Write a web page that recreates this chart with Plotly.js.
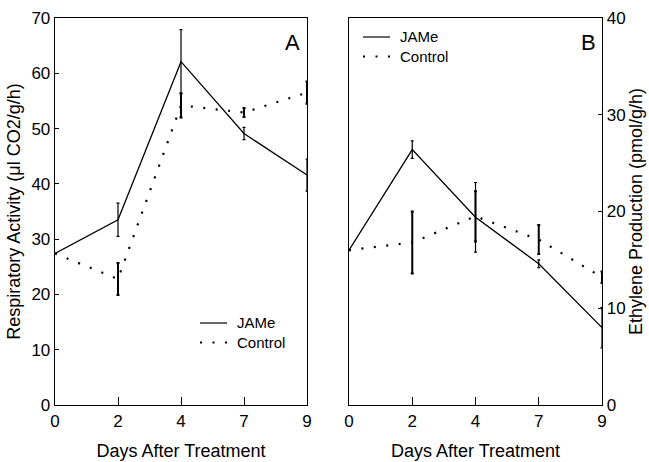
<!DOCTYPE html>
<html>
<head>
<meta charset="utf-8">
<script src="https://cdn.plot.ly/plotly-3.0.1.min.js"></script>
<style>html,body{margin:0;padding:0;background:#fff;}#chart{width:649px;height:462px;}</style>
</head>
<body>
<div id="chart"></div>
<script>
// Days after treatment (evenly spaced categories)
const days = ['0', '2', '4', '7', '9'];

// Panel A: Respiratory activity (µl CO2/g/h)
const respJAMe    = [27.4, 33.5, 62.1, 49.1, 41.6];
const respJAMeErr = [0, 3.0, 5.8, 1.1, 2.9];
const respCtrl    = [27.4, 22.8, 54.2, 52.9, 56.5];
const respCtrlErr = [0, 2.9, 2.2, 0.8, 2.0];

// Panel B: Ethylene production (pmol/g/h)
const ethJAMe     = [16.0, 26.4, 19.4, 14.6, 8.0];
const ethJAMeErr  = [0, 0.9, 3.6, 0.4, 2.1];
const ethCtrl     = [16.0, 16.8, 19.5, 17.1, 13.2];
const ethCtrlErr  = [0, 3.2, 2.6, 1.5, 0.6];

// Series names
const seriesNames = ['JAMe', 'Control'];

const FONT = 'Liberation Sans, Arial, Helvetica, sans-serif';
const solid = {color: '#000', width: 1.3, dash: 'solid'};
const dotted = {color: '#000', width: 2.2, dash: '2px,10.5px'};

// layout geometry helpers (pixel -> paper), for legend/label placement only
const ML = 55, MT = 18, PW = 547, PH = 387;
const px = v => (v - ML) / PW;
const py = v => (MT + PH - v) / PH;

function trace(x, y, err, name, line, xa, ya, errw) {
  return {
    x: x, y: y, name: name, type: 'scatter', mode: 'lines',
    line: line, xaxis: xa, yaxis: ya, showlegend: false,
    error_y: {type: 'data', array: err, visible: true, color: '#000', thickness: errw, width: 1.5}
  };
}

const data = [
  trace(days, respJAMe, respJAMeErr, seriesNames[0], solid, 'x', 'y', 1.2),
  trace(days, respCtrl, respCtrlErr, seriesNames[1], dotted, 'x', 'y', 2),
  trace(days, ethJAMe, ethJAMeErr, seriesNames[0], solid, 'x2', 'y2', 1.2),
  trace(days, ethCtrl, ethCtrlErr, seriesNames[1], dotted, 'x2', 'y2', 2)
];

const tickFont = {family: FONT, size: 17, color: '#000'};
const titleFont = {family: FONT, size: 18, color: '#000'};

const xaxisBase = {
  type: 'category', range: [0, 4], showgrid: false, zeroline: false,
  showline: true, linecolor: '#000', linewidth: 1.3, mirror: true,
  ticks: 'inside', ticklen: 8, tickwidth: 1, tickcolor: '#000',
  tickfont: tickFont,
  title: {text: 'Days After Treatment', font: titleFont, standoff: 14}
};

// Manual legends (sample lines + one two-line text) placed like the original figure
const LEG_FS = 15, LEG_GAP = LEG_FS * 1.3;
function legendItems(x0, yJ) {
  const yC = yJ + LEG_GAP;
  const shapes = [
    {type: 'line', xref: 'paper', yref: 'paper', x0: px(x0), x1: px(x0 + 27), y0: py(yJ), y1: py(yJ),
     line: {color: '#000', width: 1.2}},
    {type: 'line', xref: 'paper', yref: 'paper', x0: px(x0), x1: px(x0 + 27), y0: py(yC), y1: py(yC),
     line: {color: '#000', width: 2.2, dash: '2px,10.5px'}}
  ];
  const ann = [
    {text: seriesNames[0] + '<br>' + seriesNames[1], xref: 'paper', yref: 'paper',
     x: px(x0 + 35), y: py((yJ + yC) / 2), align: 'left',
     xanchor: 'left', yanchor: 'middle', showarrow: false, font: {family: FONT, size: LEG_FS, color: '#000'}}
  ];
  return {shapes, ann};
}
const legA = legendItems(200, 323);
const legB = legendItems(363, 37);

const layout = {
  width: 649, height: 462,
  margin: {l: ML, r: 649 - ML - PW, t: MT, b: 462 - MT - PH},
  paper_bgcolor: '#fff', plot_bgcolor: '#fff',
  font: {family: FONT, color: '#000'},
  showlegend: false,
  xaxis: Object.assign({}, xaxisBase, {domain: [0, px(307)], anchor: 'y'}),
  xaxis2: Object.assign({}, xaxisBase, {domain: [px(349), 1.0], anchor: 'y2'}),
  yaxis: {
    domain: [0, 1], anchor: 'x', range: [0, 70], dtick: 10,
    showgrid: false, zeroline: false, showline: true, linecolor: '#000', linewidth: 1.3, mirror: true,
    ticks: 'inside', ticklen: 4, tickwidth: 1, tickcolor: '#000', tickfont: tickFont,
    title: {text: 'Respiratory Activity (\u03bcl CO2/g/h)', font: titleFont, standoff: 6}
  },
  yaxis2: {
    domain: [0, 1], anchor: 'x2', side: 'right', range: [0, 40], dtick: 10,
    showgrid: false, zeroline: false, showline: true, linecolor: '#000', linewidth: 1.3, mirror: true,
    ticks: 'inside', ticklen: 4, tickwidth: 1, tickcolor: '#000', tickfont: tickFont,
    title: {text: 'Ethylene Production (pmol/g/h)', font: titleFont, standoff: 4}
  },
  shapes: legA.shapes.concat(legB.shapes),
  annotations: legA.ann.concat(legB.ann).concat([
    {text: 'A', xref: 'paper', yref: 'paper', x: px(292), y: py(43), xanchor: 'center', yanchor: 'middle',
     showarrow: false, font: {family: FONT, size: 22, color: '#000'}},
    {text: 'B', xref: 'paper', yref: 'paper', x: px(588), y: py(43), xanchor: 'center', yanchor: 'middle',
     showarrow: false, font: {family: FONT, size: 22, color: '#000'}}
  ])
};

Plotly.newPlot('chart', data, layout, {displayModeBar: false, staticPlot: true});
</script>
</body>
</html>
